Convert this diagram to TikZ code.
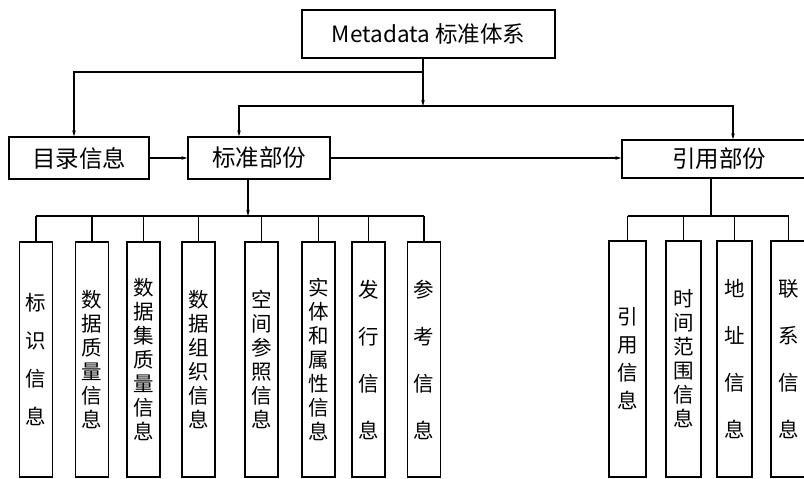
\documentclass[tikz,border=0pt]{standalone}
\usepackage{fontspec}
\setmainfont{Noto Sans CJK SC}
\usetikzlibrary{arrows.meta}
\begin{document}
\begin{tikzpicture}[x=1pt,y=-1pt,
  box/.style={draw, line width=1.3pt, inner sep=0pt, font=\fontsize{23.5}{23.5}\selectfont},
  leaf/.style={draw, line width=1.2pt, inner sep=0pt, minimum width=33pt, minimum height=235pt, align=center},
  conn/.style={line width=1.2pt},
  arr/.style={conn, -{Stealth[length=6pt,width=3.5pt]}},
  tight/.style={font=\fontsize{20.5}{24}\selectfont},
  mid/.style={font=\fontsize{20.5}{28}\selectfont},
  wide/.style={font=\fontsize{20.5}{38}\selectfont},
  wider/.style={font=\fontsize{20.5}{47}\selectfont}
]
\useasboundingbox (0,0) rectangle (804,479);
\clip (0,0) rectangle (804,479);

% top-level boxes
\node[box, font=\fontsize{22.5}{22.5}\selectfont, minimum width=253, minimum height=48] (top) at (428.5,34) {Metadata 标准体系};
\node[box, minimum width=140, minimum height=42] (ml) at (79,158) {目录信息};
\node[box, minimum width=142, minimum height=42] (bz) at (259,158) {标准部份};
\node[box, minimum width=194, minimum height=38] (yy) at (719,159) {引用部份};

% standard part leaves
\node[leaf, wide]   (s1) at (36,359.5)    {标\\识\\信\\息};
\node[leaf, tight]  (s2) at (92,359.5)    {数\\据\\质\\量\\信\\息};
\node[leaf, tight]  (s3) at (143.5,359.5) {数\\据\\集\\质\\量\\信\\息};
\node[leaf, tight]  (s4) at (198.5,359.5) {数\\据\\组\\织\\信\\息};
\node[leaf, tight]  (s5) at (261.5,359.5) {空\\间\\参\\照\\信\\息};
\node[leaf, tight]  (s6) at (318.5,359.5) {实\\体\\和\\属\\性\\信\\息};
\node[leaf, wider]  (s7) at (368.5,359.5) {发\\行\\信\\息};
\node[leaf, wider]  (s8) at (424,359.5)   {参\\考\\信\\息};

% reference part leaves
\node[leaf, mid, minimum width=37, minimum height=236]   (r1) at (627.5,359) {引\\用\\信\\息};
\node[leaf, tight, minimum width=35, minimum height=236] (r2) at (683.5,359) {时\\间\\范\\围\\信\\息};
\node[leaf, wider, minimum width=35, minimum height=236] (r3) at (734.5,359) {地\\址\\信\\息};
\node[leaf, wider, minimum width=35, minimum height=236] (r4) at (788.5,359) {联\\系\\信\\息};

% connectors from the top box
\coordinate (ts) at ([xshift=-5.5]top.south);
\coordinate (b1) at (423,72);
\coordinate (b2) at (423,106);
\draw[conn] (ts) -- (b1);
\draw[arr] (b1) -| ([xshift=-5]ml.north);
\draw[arr] (b1) -- (b2);
\draw[arr] (b2) -| ([xshift=-20]bz.north);
\draw[arr] (b2) -| ([xshift=14]yy.north);

% horizontal links
\draw[arr] (ml.east) -- (bz.west);
\draw[arr, line width=2pt] (bz.east) -- (bz.east -| yy.west);

% standard part bus
\coordinate (sb) at (248,216);
\draw[arr] ([xshift=-11]bz.south) -- (sb);
\draw[conn] (s1.north |- sb) -- (s8.north |- sb);
\foreach \n in {s1,s2,s3,s4,s5,s6,s7,s8}
  \draw[conn] (\n.north |- sb) -- (\n.north);

% reference part bus
\coordinate (rb) at (711,216);
\draw[conn] ([xshift=-8]yy.south) -- (rb);
\draw[conn] (r1.north |- rb) -- (r4.north |- rb);
\foreach \n in {r1,r2,r3,r4}
  \draw[conn] (\n.north |- rb) -- (\n.north);
\end{tikzpicture}
\end{document}
